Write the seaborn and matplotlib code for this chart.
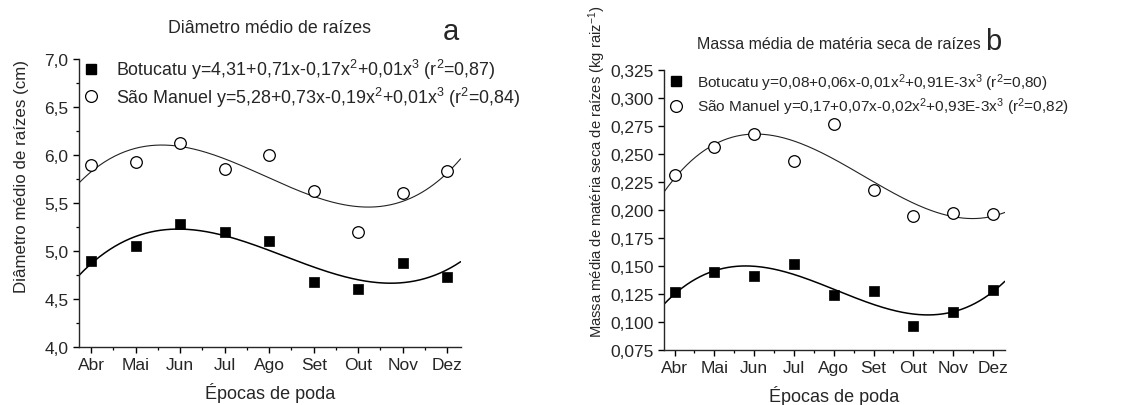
import numpy as np
import pandas as pd
import matplotlib
matplotlib.use("Agg")
import matplotlib.pyplot as plt
from matplotlib.ticker import MultipleLocator, FuncFormatter
from matplotlib.lines import Line2D
import seaborn as sns

# Pruning months (x = 1..9)
meses = ["Abr", "Mai", "Jun", "Jul", "Ago", "Set", "Out", "Nov", "Dez"]

# Mean root diameter (cm)
diam_botucatu = [4.90, 5.05, 5.28, 5.20, 5.10, 4.68, 4.60, 4.88, 4.73]
diam_sao_manuel = [5.90, 5.93, 6.13, 5.85, 6.00, 5.63, 5.20, 5.60, 5.83]

# Mean root dry mass (kg raiz^-1)
massa_botucatu = [0.127, 0.145, 0.141, 0.152, 0.124, 0.128, 0.096, 0.109, 0.129]
massa_sao_manuel = [0.231, 0.256, 0.268, 0.244, 0.277, 0.218, 0.195, 0.197, 0.196]

leg_a = [
    r"Botucatu y=4,31+0,71x-0,17x$^2$+0,01x$^3$ (r$^2$=0,87)",
    r"São Manuel y=5,28+0,73x-0,19x$^2$+0,01x$^3$ (r$^2$=0,84)",
]
leg_b = [
    r"Botucatu y=0,08+0,06x-0,01x$^2$+0,91E-3x$^3$ (r$^2$=0,80)",
    r"São Manuel y=0,17+0,07x-0,02x$^2$+0,93E-3x$^3$ (r$^2$=0,82)",
]

sns.set_style("ticks")
plt.rcParams["font.family"] = ["Liberation Sans", "DejaVu Sans"]
plt.rcParams["mathtext.fontset"] = "custom"
plt.rcParams["mathtext.rm"] = "Liberation Sans"
plt.rcParams["mathtext.it"] = "Liberation Sans"
plt.rcParams["axes.linewidth"] = 1.0

fig = plt.figure(figsize=(11.29, 4.06), dpi=100)
ax_a = fig.add_axes([0.070, 0.143, 0.338, 0.709])
ax_b = fig.add_axes([0.588, 0.1355, 0.302, 0.6895])

x = np.arange(1, len(meses) + 1)
XLIM = (0.73, 9.3)


def comma_fmt(decimals):
    return FuncFormatter(lambda v, p: f"{v:.{decimals}f}".replace(".", ","))


def draw_panel(ax, y_bot, y_sao, labels, ylim, ymajor, yminor, decimals,
               leg_size, leg_anchor):
    xs = np.linspace(XLIM[0], XLIM[1], 300)
    curves = []
    for name, vals in (("bot", y_bot), ("sao", y_sao)):
        coef = np.polyfit(x, vals, 3)
        curves.append(pd.DataFrame({"x": xs, "y": np.polyval(coef, xs), "s": name}))
    sns.lineplot(data=curves[0], x="x", y="y", color="black", lw=1.1, ax=ax)
    sns.lineplot(data=curves[1], x="x", y="y", color="#222222", lw=0.8, ax=ax)

    pts_b = pd.DataFrame({"x": x, "y": y_bot})
    pts_s = pd.DataFrame({"x": x, "y": y_sao})
    sns.scatterplot(data=pts_b, x="x", y="y", marker="s", s=62, color="black",
                    edgecolor="black", linewidth=0.5, ax=ax, zorder=3)
    sns.scatterplot(data=pts_s, x="x", y="y", marker="o", s=70, facecolor="white",
                    edgecolor="black", linewidth=0.9, ax=ax, zorder=3)

    ax.set_xlim(*XLIM)
    ax.set_ylim(*ylim)
    ax.set_xticks(x)
    ax.set_xticklabels(meses)
    ax.xaxis.set_minor_locator(MultipleLocator(0.5))
    ax.yaxis.set_major_locator(MultipleLocator(ymajor))
    if yminor:
        ax.yaxis.set_minor_locator(MultipleLocator(yminor))
    ax.yaxis.set_major_formatter(comma_fmt(decimals))
    ax.tick_params(axis="both", which="major", direction="out", length=4.5,
                   width=1.0, labelsize=12.5, color="black", pad=3)
    ax.tick_params(axis="both", which="minor", direction="out", length=2.5,
                   width=0.9, color="black")
    sns.despine(ax=ax)
    ax.set_xlabel("Épocas de poda", fontsize=13, labelpad=7)

    handles = [
        Line2D([], [], ls="none", marker="s", ms=7.5, color="black"),
        Line2D([], [], ls="none", marker="o", ms=8.5, mfc="white", mec="black", mew=0.9),
    ]
    ax.legend(handles, labels, loc="upper left", bbox_to_anchor=leg_anchor,
              frameon=False, fontsize=leg_size, handlelength=1.0, handletextpad=0.9,
              labelspacing=0.2, borderaxespad=0.2)


draw_panel(ax_a, diam_botucatu, diam_sao_manuel, leg_a, (4.0, 7.0), 0.5, 0.25, 1,
           12.9, (-0.02, 1.045))
ax_a.set_ylabel("Diâmetro médio de raízes (cm)", fontsize=12.2)
ax_a.yaxis.set_label_coords(-0.131, 0.594)

draw_panel(ax_b, massa_botucatu, massa_sao_manuel, leg_b, (0.075, 0.325), 0.025, None, 3,
           11.1, (-0.015, 1.03))
ax_b.set_ylabel(r"Massa média de matéria seca de raízes (kg raiz$^{-1}$)", fontsize=10.6)
ax_b.yaxis.set_label_coords(-0.165, 0.639)

fig.text(0.239, 0.931, "Diâmetro médio de raízes", ha="center", va="center", fontsize=12.8)
fig.text(0.399, 0.922, "a", ha="center", va="center", fontsize=21)
fig.text(0.743, 0.891, "Massa média de matéria seca de raízes", ha="center", va="center", fontsize=11.5)
fig.text(0.880, 0.896, "b", ha="center", va="center", fontsize=21)

fig.savefig("out.png", dpi=100, facecolor="white")
